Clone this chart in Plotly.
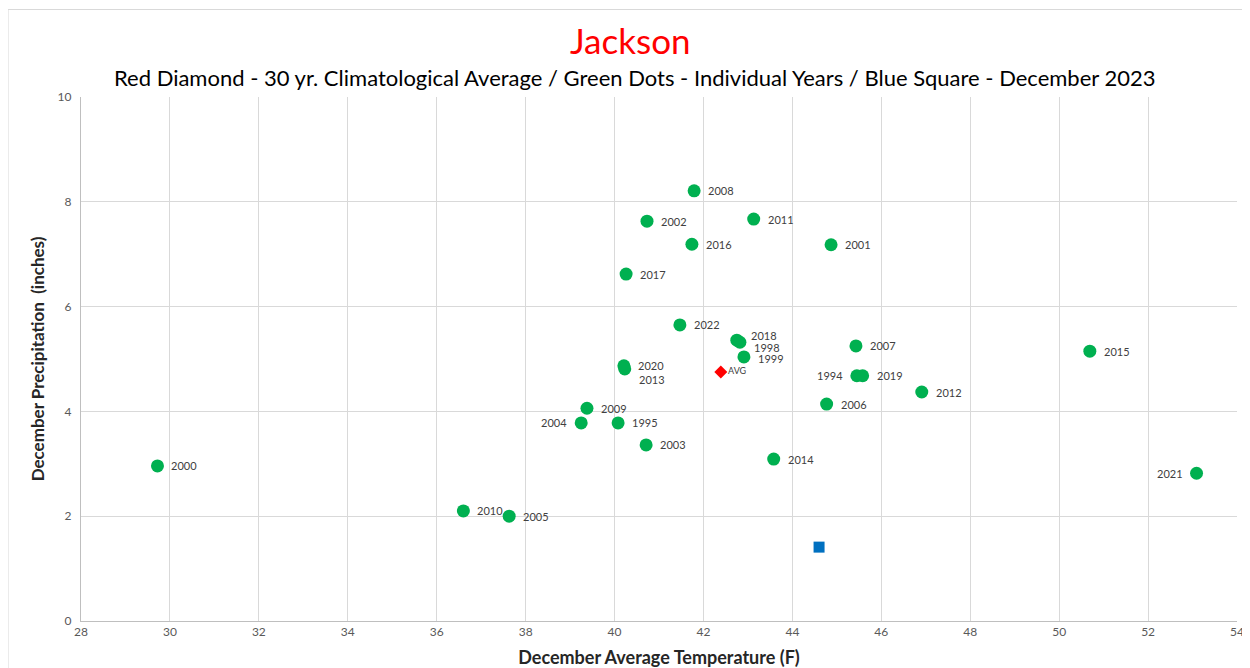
import plotly.graph_objects as go

# December temperature (F) / precipitation (inches) per year
years = ["2000", "2010", "2005", "2004", "2009", "1995", "2003", "2020", "2013",
         "2017", "2002", "2022", "2016", "2008", "2018", "1998", "1999", "2011",
         "2014", "2006", "2001", "2007", "1994", "2019", "2012", "2015", "2021"]
temps = [29.72, 36.60, 37.63, 39.25, 39.38, 40.08, 40.71, 40.21, 40.23,
         40.26, 40.73, 41.47, 41.74, 41.79, 42.75, 42.82, 42.91, 43.13,
         43.58, 44.77, 44.87, 45.43, 45.45, 45.58, 46.91, 50.69, 53.09]
precip = [2.96, 2.10, 2.00, 3.78, 4.06, 3.78, 3.36, 4.87, 4.81,
          6.62, 7.63, 5.65, 7.19, 8.21, 5.36, 5.32, 5.04, 7.67,
          3.09, 4.14, 7.18, 5.25, 4.68, 4.68, 4.37, 5.15, 2.82]
left_labels = ["2004", "1994", "2021"]
label_yshift = {"2018": 5, "1998": -5, "1999": -2, "2013": -11}

avg_temp = [42.39]
avg_precip = [4.75]
cur_temp = [44.60]
cur_precip = [1.41]

FONT = "Lato"
OFF = 8  # page body margin

fig = go.Figure()
fig.add_trace(go.Scatter(
    x=temps, y=precip, mode="markers",
    marker=dict(color="#00B050", size=13)
))
fig.add_trace(go.Scatter(
    x=avg_temp, y=avg_precip, mode="markers+text",
    text=["AVG"], textposition="middle right",
    textfont=dict(size=9, color="#404040", family=FONT),
    marker=dict(color="#FF0000", size=10, symbol="diamond")
))
fig.add_trace(go.Scatter(
    x=cur_temp, y=cur_precip, mode="markers",
    marker=dict(color="#0070C0", size=11, symbol="square")
))

for yr, t, p in zip(years, temps, precip):
    left = yr in left_labels
    fig.add_annotation(x=t, y=p, text=yr, showarrow=False,
                       xanchor="right" if left else "left",
                       xshift=-12 if left else 12,
                       yshift=label_yshift.get(yr, 0),
                       font=dict(size=11, color="#404040", family=FONT))

plot_l, plot_r, plot_t, plot_b = 80.5, 1237, 97, 621
pw = plot_r - plot_l
ph = plot_b - plot_t


def px(x):
    return (x - plot_l) / pw


def py(y):
    return (plot_b - y) / ph


fig.add_shape(type="rect", xref="paper", yref="paper",
              x0=px(7.5), x1=px(1280), y0=py(700), y1=py(9.5),
              line=dict(color="#D9D9D9", width=1), layer="below")

fig.add_annotation(text="Jackson", xref="paper", yref="paper",
                   x=px(630), y=py(40), xanchor="center", yanchor="middle",
                   showarrow=False, font=dict(size=35, color="#FF0000", family=FONT))
fig.add_annotation(text="Red Diamond - 30 yr. Climatological Average / Green Dots - Individual Years / Blue Square - December 2023",
                   xref="paper", yref="paper",
                   x=px(635), y=py(78), xanchor="center", yanchor="middle",
                   showarrow=False, font=dict(size=22, color="#000000", family=FONT))

fig.update_layout(
    width=1250 - OFF, height=668 - OFF,
    margin=dict(l=plot_l - OFF, r=1250 - plot_r, t=plot_t - OFF, b=668 - plot_b),
    paper_bgcolor="white", plot_bgcolor="white",
    showlegend=False,
    font=dict(family=FONT),
    xaxis=dict(range=[28, 54], dtick=2, tick0=28, automargin=False,
               showgrid=True, gridcolor="#D9D9D9", zeroline=False,
               showline=True, linecolor="#BFBFBF",
               tickfont=dict(size=12, color="#595959"),
               title=dict(text="<b>December Average Temperature (F)</b>",
                          font=dict(size=18, color="#262626"), standoff=19)),
    yaxis=dict(range=[0, 10], dtick=2, automargin=False,
               showgrid=True, gridcolor="#D9D9D9", zeroline=False,
               showline=True, linecolor="#BFBFBF",
               tickfont=dict(size=12, color="#595959"), ticksuffix="  ",
               title=dict(text="<b>December Precipitation  (inches)</b>",
                          font=dict(size=17, color="#262626"), standoff=8)),
)

fig.write_html("out.html")
